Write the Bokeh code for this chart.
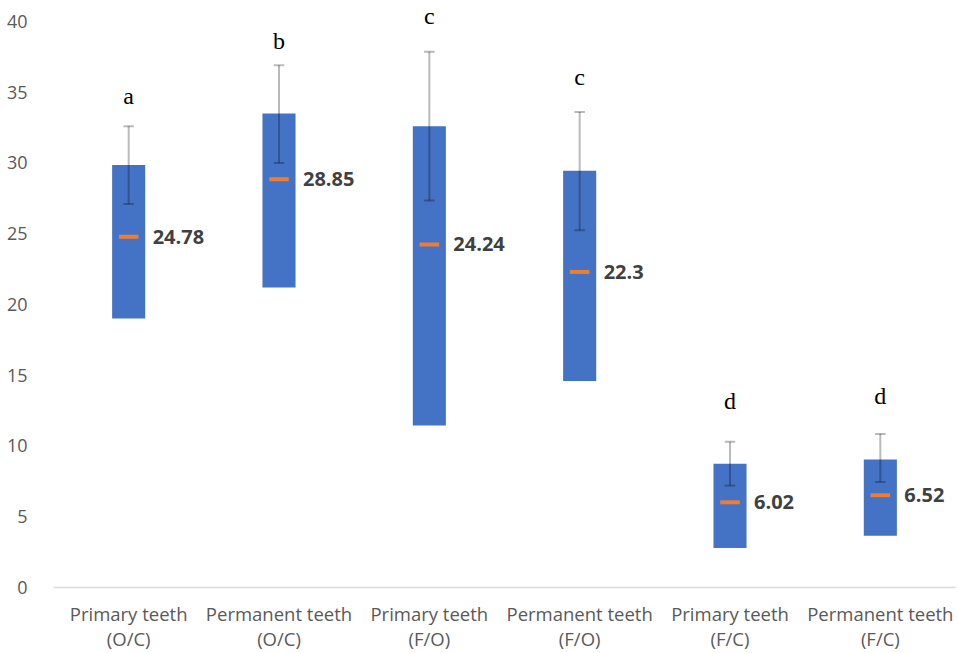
from bokeh.plotting import figure
from bokeh.models import Range1d, FixedTicker, ColumnDataSource, LabelSet
from bokeh.core.properties import value
from bokeh.embed import file_html
from bokeh.resources import INLINE

categories = ["Primary teeth\n(O/C)", "Permanent teeth\n(O/C)", "Primary teeth\n(F/O)",
              "Permanent teeth\n(F/O)", "Primary teeth\n(F/C)", "Permanent teeth\n(F/C)"]
box_low = [19.0, 21.2, 11.45, 14.6, 2.8, 3.65]
box_high = [29.85, 33.5, 32.6, 29.45, 8.75, 9.05]
means = [24.78, 28.85, 24.24, 22.3, 6.02, 6.52]
whisker_low = [27.1, 30.0, 27.35, 25.25, 7.2, 7.45]
whisker_high = [32.6, 36.9, 37.85, 33.6, 10.3, 10.85]
letters = ["a", "b", "c", "c", "d", "d"]
letter_y = [34.7, 38.6, 40.4, 36.1, 13.2, 13.5]

xs = list(range(len(categories)))
cap = 0.035

src = ColumnDataSource(dict(
    x=xs, lo=box_low, hi=box_high, mean=means,
    wlo=whisker_low, whi=whisker_high,
    capl=[x - cap for x in xs], capr=[x + cap for x in xs],
    mlabel=[f"{m:g}" for m in means],
    letter=letters, ly=letter_y,
))

p = figure(width=958, height=653, output_backend="svg", toolbar_location=None,
           x_range=Range1d(-0.5, 5.5), y_range=Range1d(0, 41.48),
           min_border_left=53, min_border_right=3, min_border_top=0, min_border_bottom=66)
p.outline_line_color = None
p.xgrid.visible = False
p.ygrid.visible = False
p.background_fill_color = "white"
p.border_fill_color = "white"

p.vbar(x="x", width=0.22, bottom="lo", top="hi", source=src,
       fill_color="#4472C4", line_color=None)
p.segment(x0="x", y0="wlo", x1="x", y1="whi", source=src,
          line_color="black", line_alpha=0.27, line_width=2)
p.segment(x0="capl", y0="whi", x1="capr", y1="whi", source=src,
          line_color="black", line_alpha=0.27, line_width=2)
p.segment(x0="capl", y0="wlo", x1="capr", y1="wlo", source=src,
          line_color="black", line_alpha=0.27, line_width=2)
p.rect(x="x", y="mean", width=0.13, height=4, height_units="screen", source=src,
       fill_color="#ED7D31", line_color=None)
p.text(x="x", y="mean", text="mlabel", source=src, x_offset=24,
       text_align="left", text_baseline="middle", text_color="#404040",
       text_font=value("Open Sans"), text_font_style="bold", text_font_size="20px")
p.add_layout(LabelSet(x="x", y="ly", text="letter", source=src,
                      text_align="center", text_baseline="middle", text_color="black",
                      text_font="Liberation Serif", text_font_size="24px"))

p.yaxis.ticker = FixedTicker(ticks=[0, 5, 10, 15, 20, 25, 30, 35, 40])
p.yaxis.axis_line_color = None
p.yaxis.major_tick_line_color = None
p.yaxis.minor_tick_line_color = None
p.yaxis.major_label_standoff = 20
p.yaxis.major_label_text_font = "Open Sans"
p.yaxis.major_label_text_font_size = "18px"
p.yaxis.major_label_text_color = "#595959"

p.xaxis.ticker = FixedTicker(ticks=xs)
p.xaxis.major_label_overrides = {i: c for i, c in zip(xs, categories)}
p.xaxis.axis_line_color = "#D9D9D9"
p.xaxis.axis_line_width = 1.5
p.xaxis.major_tick_line_color = None
p.xaxis.minor_tick_line_color = None
p.xaxis.major_label_standoff = 7
p.xaxis.major_label_text_font = "Open Sans"
p.xaxis.major_label_text_font_size = "18.5px"
p.xaxis.major_label_text_color = "#595959"
p.xaxis.major_label_text_line_height = 1.0

open("out.html", "w").write(file_html(p, INLINE))
